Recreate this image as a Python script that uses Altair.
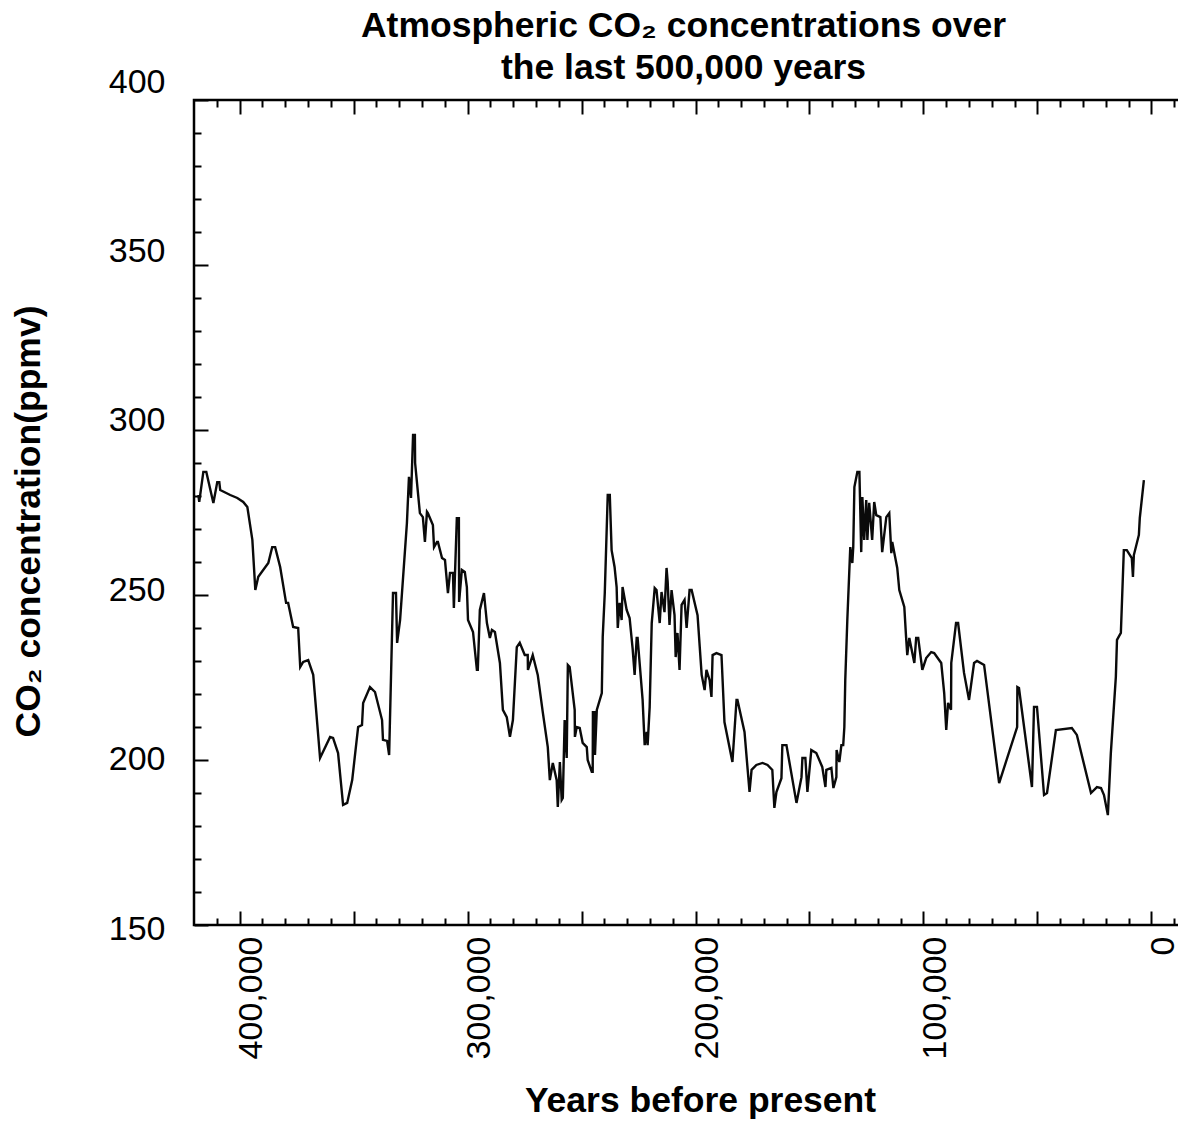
import altair as alt
import pandas as pd

# Years before present (thousands) and CO2 (ppmv)
years_bp_k = [
    418.1, 417.7, 415.9, 414.6, 411.5, 409.8, 408.9, 408.5, 404.1, 401.0,
    398.4, 396.6, 394.4, 393.1, 391.8, 387.4, 385.7, 384.4, 382.2, 379.6,
    378.7, 376.5, 374.3, 373.4, 372.1, 369.9, 367.7, 364.7, 360.3, 359.0,
    356.8, 354.6, 352.8, 350.6, 348.0, 346.3, 345.8, 342.8, 340.6, 337.5,
    337.1, 335.3, 334.4, 332.7, 331.4, 330.9, 329.6, 326.6, 325.7, 324.8,
    323.9, 323.1, 323.0, 320.9, 319.6, 318.7, 317.8, 317.4, 315.2, 314.7,
    313.4, 313.0, 311.2, 309.9, 308.6, 307.7, 306.4, 306.0, 304.7, 303.8,
    303.7, 302.5, 301.2, 300.3, 299.8, 297.6, 295.9, 295.5, 294.6, 292.8,
    291.5, 290.2, 289.3, 288.0, 285.8, 284.5, 282.8, 281.4, 280.1, 278.4,
    277.1, 274.9, 273.6, 273.5, 271.4, 269.2, 267.0, 264.8, 263.9, 262.6,
    260.9, 260.4, 259.5, 258.7, 258.2, 257.4, 256.5, 256.0, 255.2, 253.0,
    252.9, 252.1, 250.8, 249.5, 247.7, 247.3, 245.5, 245.1, 245.0, 244.2,
    244.1, 243.3, 241.1, 240.7, 239.8, 238.5, 237.6, 236.8, 235.5, 234.6,
    234.1, 233.3, 232.4, 232.0, 230.2, 228.9, 227.6, 226.7, 225.8, 225.4,
    223.2, 222.3, 221.4, 221.0, 220.1, 219.2, 217.9, 217.1, 215.7, 214.9,
    213.6, 212.7, 212.2, 211.4, 210.5, 209.2, 208.7, 207.9, 207.0, 206.1,
    204.8, 203.9, 202.6, 201.7, 199.1, 197.3, 196.0, 195.2, 193.8, 193.0,
    192.5, 190.8, 188.6, 187.3, 183.8, 182.0, 181.6, 178.5, 176.3, 175.4,
    173.3, 170.6, 168.4, 166.3, 165.4, 164.5, 162.3, 161.9, 160.1, 155.7,
    153.5, 153.1, 151.8, 150.9, 149.2, 147.0, 144.4, 143.0, 142.6, 140.4,
    139.5, 138.2, 138.1, 136.9, 136.0, 135.2, 134.7, 134.3, 133.4, 132.1,
    131.2, 130.8, 130.3, 129.0, 128.1, 127.3, 126.8, 126.0, 125.1, 124.6,
    123.8, 122.5, 121.6, 120.7, 118.9, 118.1, 116.3, 115.0, 114.1, 113.7,
    111.5, 110.6, 108.4, 107.6, 107.1, 106.2, 104.0, 103.2, 102.3, 100.5,
    98.8, 96.6, 95.3, 92.2, 90.9, 90.0, 89.2, 87.9, 87.8, 85.7,
    84.8, 82.2, 80.0, 77.8, 76.5, 73.4, 66.8, 58.9, 58.8, 58.1,
    52.4, 51.5, 50.2, 47.1, 45.8, 41.9, 34.9, 32.7, 26.5, 23.9,
    22.1, 20.8, 19.1, 17.8, 15.6, 15.1, 13.4, 12.1, 10.8, 8.6,
    8.1, 7.7, 5.5, 5.1, 3.3,
]
co2_ppmv = [
    280.3, 278.2, 287.3, 287.3, 277.9, 284.2, 284.2, 281.8, 280.3, 279.4,
    278.2, 276.7, 266.7, 251.5, 255.5, 259.7, 264.5, 264.5, 258.5, 247.6,
    247.6, 240.3, 240.0, 228.2, 229.7, 230.3, 225.8, 200.6, 207.0, 206.7,
    202.1, 186.4, 187.0, 193.9, 210.0, 210.6, 217.3, 222.1, 220.6, 212.1,
    206.1, 205.8, 201.5, 250.6, 250.6, 235.5, 242.4, 271.8, 285.8, 279.4,
    298.5, 298.5, 290.0, 274.8, 273.6, 266.1, 275.2, 274.8, 271.2, 264.5,
    266.1, 266.1, 261.2, 260.6, 250.6, 256.7, 256.7, 246.1, 273.3, 273.3,
    247.9, 257.6, 257.0, 252.4, 242.4, 238.8, 227.3, 227.3, 245.5, 250.6,
    241.5, 237.0, 239.4, 238.8, 229.4, 215.2, 213.0, 207.0, 212.1, 234.2,
    235.5, 231.8, 231.8, 227.3, 231.8, 225.8, 214.5, 203.9, 193.9, 199.1,
    193.9, 185.8, 199.4, 187.9, 188.5, 212.1, 200.6, 228.8, 228.2, 215.2,
    207.0, 210.0, 209.7, 205.2, 203.9, 200.0, 196.4, 196.4, 214.5, 214.5,
    201.5, 215.2, 220.3, 237.3, 250.6, 280.3, 280.3, 263.6, 258.5, 252.4,
    240.0, 247.6, 242.4, 252.4, 245.5, 243.0, 233.9, 225.8, 237.0, 237.0,
    218.2, 204.5, 208.5, 204.5, 216.1, 241.5, 252.1, 251.5, 241.5, 250.9,
    244.8, 258.2, 253.9, 240.9, 251.5, 243.9, 231.2, 238.5, 227.3, 247.0,
    248.5, 240.0, 251.5, 251.5, 243.9, 225.8, 221.2, 227.3, 224.2, 219.1,
    231.8, 232.4, 231.8, 211.5, 199.4, 218.2, 218.2, 208.5, 190.3, 197.0,
    198.5, 199.1, 198.5, 197.0, 185.5, 190.3, 194.5, 204.5, 204.5, 187.0,
    194.8, 200.6, 200.6, 190.3, 203.0, 202.1, 197.9, 191.8, 197.0, 197.6,
    191.5, 194.8, 203.0, 199.4, 204.5, 204.5, 210.0, 224.2, 242.4, 264.5,
    259.7, 264.5, 282.7, 287.3, 287.3, 263.0, 279.7, 266.7, 278.8, 266.7,
    277.9, 266.7, 278.2, 274.2, 273.6, 263.0, 273.6, 274.8, 262.7, 266.1,
    258.2, 251.5, 246.4, 237.0, 231.8, 237.0, 229.4, 237.0, 237.0, 227.3,
    230.9, 232.7, 232.4, 229.4, 220.3, 209.1, 217.3, 215.2, 229.4, 241.5,
    241.5, 226.4, 218.2, 229.4, 230.0, 228.8, 193.0, 210.0, 222.1, 221.8,
    191.8, 216.1, 216.1, 189.4, 190.0, 209.1, 209.7, 207.6, 190.0, 191.8,
    191.5, 189.4, 183.3, 202.1, 225.2, 236.4, 238.5, 263.6, 263.6, 261.2,
    255.5, 262.1, 268.2, 273.3, 284.8,
]

title_lines = ["Atmospheric CO\u2082 concentrations over", "the last 500,000 years"]
x_title = "Years before present"
y_title = "CO\u2082 concentration(ppmv)"

x_major = list(range(400000, -1, -50000))
x_minor = [v for v in range(410000, -20000, -10000) if v % 50000 != 0]
y_major = list(range(150, 401, 50))
y_minor = [v for v in range(160, 400, 10) if v % 50 != 0]

df = pd.DataFrame({
    "year": [k * 1000 for k in years_bp_k],
    "co2": co2_ppmv,
    "i": list(range(len(co2_ppmv))),
})

FONT = "Liberation Sans"
xscale = alt.Scale(domain=[420000, -20000], nice=False, zero=False)
yscale = alt.Scale(domain=[150, 400], nice=False, zero=False)

base = alt.Chart(df)


def layer(xaxis, yaxis, visible):
    m = base.mark_line(color="#0a0a0a", strokeWidth=2.4, opacity=1 if visible else 0)
    return m.encode(
        x=alt.X("year:Q", scale=xscale, axis=xaxis),
        y=alt.Y("co2:Q", scale=yscale, axis=yaxis),
        order=alt.Order("i:Q"),
    )


x_bottom_major = alt.Axis(
    orient="bottom", values=x_major, offset=-14, tickSize=14,
    labelExpr="datum.value % 100000 == 0 ? format(datum.value, ',') : ''",
    labelAngle=-90, labelAlign="right", labelBaseline="middle",
    labelPadding=11, labelOffset=12, labelFlush=False, labelOverlap=False,
    title=x_title, titleX=506, titleY=200, titleBaseline="alphabetic",
    titleAlign="center", titleAngle=0,
)
y_left_major = alt.Axis(
    orient="left", values=y_major, offset=-14, tickSize=14,
    labelPadding=29, labelFlush=False, labelOverlap=False,
    labelOffset=alt.ExprRef("-18 + (400 - datum.value) * 0.088"),
    title=y_title, titleX=-169, titleY=421, titleAngle=-90,
    titleBaseline="alphabetic", titleAlign="center",
)
x_bottom_minor = alt.Axis(orient="bottom", values=x_minor, offset=-7, tickSize=7,
                          labels=False, title=None)
y_left_minor = alt.Axis(orient="left", values=y_minor, offset=-7, tickSize=7,
                        labels=False, title=None)
x_top_major = alt.Axis(orient="top", values=x_major, offset=-14, tickSize=14,
                       labels=False, title=None)
y_right_major = alt.Axis(orient="right", values=y_major, offset=-14, tickSize=14,
                         labels=False, title=None)
x_top_minor = alt.Axis(orient="top", values=x_minor, offset=-7, tickSize=7,
                       labels=False, title=None)
y_right_minor = alt.Axis(orient="right", values=y_minor, offset=-7, tickSize=7,
                         labels=False, title=None)

chart = (
    alt.layer(
        layer(x_bottom_major, y_left_major, True),
        layer(x_bottom_minor, y_left_minor, False),
        layer(x_top_major, y_right_major, False),
        layer(x_top_minor, y_right_minor, False),
    )
    .resolve_axis(x="independent", y="independent")
    .properties(
        width=1003,
        height=825,
        autosize=alt.AutoSizeParams(type="none"),
        padding={"left": 186, "top": 92, "right": -19, "bottom": 195},
        title=alt.TitleParams(
            text=title_lines, font=FONT, fontSize=35.5, fontWeight="bold",
            color="black", anchor="middle", frame="group", offset=-21,
            lineHeight=42, dx=-12,
        ),
    )
    .configure_view(stroke="black", strokeWidth=2.5)
    .configure_axis(
        domain=False, grid=False, tickColor="black", tickWidth=2,
        labelColor="black", labelFont=FONT, labelFontSize=34,
        titleFont=FONT, titleFontSize=35.5, titleFontWeight="bold", titleColor="black",
    )
)

chart.save("out.html", embed_options={"renderer": "svg", "actions": False})
